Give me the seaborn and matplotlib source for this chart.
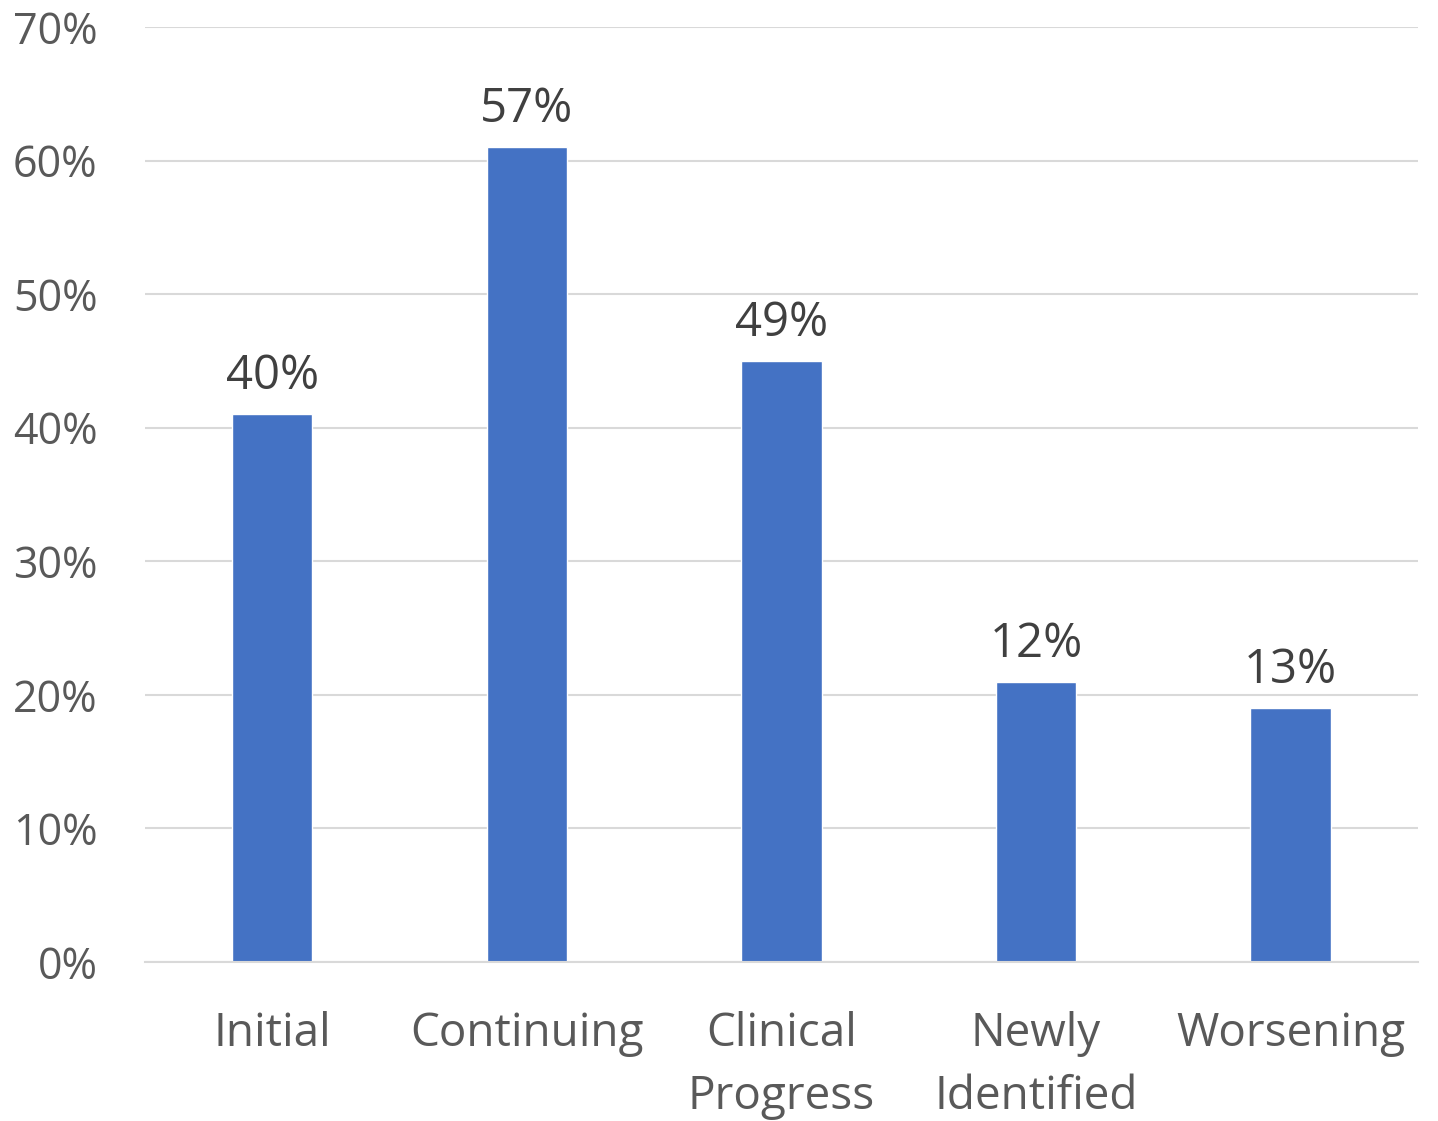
import pandas as pd
import matplotlib.pyplot as plt
import seaborn as sns

# chart data
categories = ["Initial", "Continuing", "Clinical\nProgress", "Newly\nIdentified", "Worsening"]
bar_values = [0.41, 0.61, 0.45, 0.21, 0.19]
bar_labels = ["40%", "57%", "49%", "12%", "13%"]
y_ticks = [0, 0.1, 0.2, 0.3, 0.4, 0.5, 0.6, 0.7]
y_tick_labels = ["0%", "10%", "20%", "30%", "40%", "50%", "60%", "70%"]

df = pd.DataFrame({"category": categories, "value": bar_values})

sns.set_style("white")
plt.rcParams['font.family'] = ['Open Sans', 'DejaVu Sans']

fig = plt.figure(figsize=(14.38, 11.21), dpi=100)
ax = fig.add_axes([0.1008, 0.1418, 0.8852, 0.8341])

sns.barplot(data=df, x="category", y="value", color="#4472C4", width=0.315,
            saturation=1, ax=ax)

ax.set_ylim(0, 0.7)
ax.set_xlim(-0.5, 4.5)
ax.set_yticks(y_ticks)
ax.set_yticklabels(y_tick_labels)
ax.grid(axis="y", color="#d9d9d9", linewidth=1.5)
ax.set_axisbelow(True)
for s in ["top", "right", "left"]:
    ax.spines[s].set_visible(False)
ax.spines["bottom"].set_color("#d9d9d9")
ax.spines["bottom"].set_linewidth(1.5)
ax.tick_params(axis="y", length=0, pad=34, labelsize=31, labelcolor="#595959")
ax.tick_params(axis="x", length=0, pad=35, labelsize=33, labelcolor="#595959")
for t in ax.get_xticklabels():
    t.set_linespacing(1.5)
ax.set_xlabel("")
ax.set_ylabel("")

for i, (v, lab) in enumerate(zip(bar_values, bar_labels)):
    ax.annotate(lab, (i, v), xytext=(0, 10), textcoords="offset points",
                ha="center", va="bottom", fontsize=34, color="#404040")

fig.savefig("out.png", dpi=100)
